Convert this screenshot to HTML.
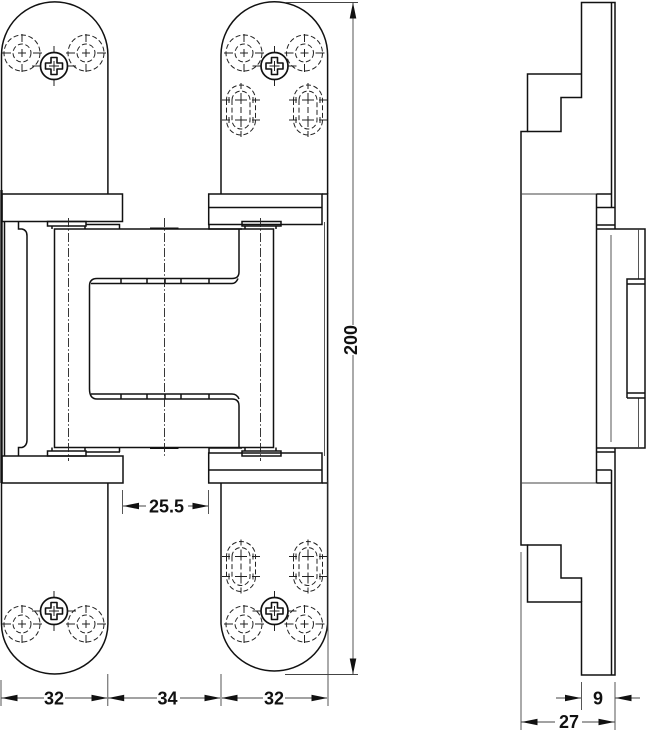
<!DOCTYPE html>
<html><head><meta charset="utf-8"><style>
html,body{margin:0;padding:0;background:#fff}
svg{display:block}
.m{fill:none;stroke:#111;stroke-width:1.5}
.g{fill:none;stroke:#444;stroke-width:.9}
.d{fill:none;stroke:#222;stroke-width:1;stroke-dasharray:5 2.6}
.c{fill:none;stroke:#222;stroke-width:.9;stroke-dasharray:9 2.2 1.6 2.2}
.x{fill:none;stroke:#222;stroke-width:1}
.a{fill:#111;stroke:none}
text{font-family:"Liberation Sans",sans-serif;font-weight:bold;font-size:18px;fill:#111;text-anchor:middle}
</style></head><body>
<svg width="647" height="730" viewBox="0 0 647 730" xmlns="http://www.w3.org/2000/svg">
<defs>
<g id="hole"><circle r="18" class="d"/><circle r="9" class="d"/><path class="x" d="M-20 0H-11M-4 0H4M11 0H20M0 -19V-11M0 -4V4M0 11V19"/></g>
<g id="screw"><path class="x" d="M-22 0H-14M14 0H22M0 -20V-14M0 14V20"/><circle r="13.500" fill="#fff" stroke="#111" stroke-width="1.700"/>
<path d="M-3 -8.500H3V-3H8.500V3H3V8.500H-3V3H-8.500V-3H-3Z" fill="#fff" stroke="#111" stroke-width="1.600" stroke-linejoin="round"/><path class="x" d="M-5 0H5M0 -5V5"/></g>
<g id="slot"><path class="d" d="M-14.500 -10V10A14.500 15 0 0 0 14.500 10V-10A14.500 15 0 0 0 -14.500 -10Z"/><path class="d" d="M-9 -10V10A9 9 0 0 0 9 10V-10A9 9 0 0 0 -9 -10Z"/>
<path class="x" d="M-19 -10H-11M-6 -10H6M11 -10H19M-19 10H-11M-6 10H6M11 10H19M-12 -13V-7M12 -13V-7M-12 7V13M12 7V13M0 -27V-21M0 -17V-6M0 -3V3M0 6V17M0 21V27"/></g>
<path id="ar" d="M0 0L-16 -3.300V3.300Z"/>
</defs>

<!-- plates front -->
<path class="m" d="M1.500 194V55A53.200 53.200 0 0 1 107.900 55V194"/>
<path class="m" d="M221 194V55A53.200 53.200 0 0 1 327.600 55V194"/>
<path class="m" d="M1.500 483V624A53.200 50 0 0 0 107.900 624V483"/>
<path class="m" d="M221 483V624A53.400 50 0 0 0 327.600 624V483"/>

<use href="#hole" x="22" y="53"/><use href="#hole" x="86" y="53"/>
<use href="#hole" x="244" y="53"/><use href="#hole" x="304.500" y="53"/>
<use href="#hole" x="22" y="624"/><use href="#hole" x="86" y="624"/>
<use href="#hole" x="244" y="624"/><use href="#hole" x="304.500" y="624"/>
<use href="#slot" x="241" y="110"/><use href="#slot" x="308" y="110"/>
<use href="#slot" x="241" y="566.500"/><use href="#slot" x="308" y="566.500"/>
<use href="#screw" x="54" y="66"/><use href="#screw" x="274.500" y="66"/>
<use href="#screw" x="54" y="611"/><use href="#screw" x="274.500" y="611"/>

<!-- hinge blocks -->
<path class="m" d="M2 194H122.500V221.500H2Z"/>
<path class="m" d="M2 456H123V483H2Z"/>
<path class="m" d="M208.700 194H322V224.500H208.700ZM208.700 207.500H322"/>
<path class="m" d="M208.700 453H322V483H208.700ZM208.700 470H322"/>
<path class="m" d="M322 194H327.600V483H322"/>
<path class="g" d="M324.500 222V456"/>
<path d="M1.500 190V483" stroke="#111" stroke-width="2.400" fill="none"/>
<path class="m" d="M4.500 221V456"/>

<!-- caps -->
<path class="m" d="M47.500 221.500H86V226H47.500ZM52 226V229M85 226V229M86 224.500H119.500V229"/>
<path class="m" d="M242 221.500H281V226H242ZM245 226V229M276 226V229M209 224.500V229H242"/>
<path class="m" d="M47.500 451H86V456H47.500ZM52 447.500V451M85 447.500V451M86 452H120M119.500 447.500V452"/>
<path class="m" d="M242 451H281V456H242ZM245 447.500V451M276 447.500V451M209 448V453M209 448H242"/>

<!-- left leaf -->
<path class="m" d="M18.500 221.500V229H22Q27 230 27 236V440Q27 446 22 447.500H18.500V456"/>

<!-- body -->
<path class="m" d="M54.500 229H273.500V447.500H54.500Z"/>
<path class="m" d="M239 229V272Q239 278.500 232 278.500H97Q89.500 278.500 89.500 286V389Q89.500 399 97 399H232Q239 399 239 406V447.500" stroke-linejoin="round"/>
<path class="m" d="M91 283.500H232Q236 283.500 238 278.500M91 394H232Q237 394 239 399"/>
<path class="m" d="M121 278.500V283.500M147 278.500V283.500M165 278.500V283.500M181 278.500V283.500M209 278.500V283.500M121 394V399M147 394V399M165 394V399M181 394V399M209 394V399"/>
<path d="M150 228.500H178.500M150 448H178.500" stroke="#111" stroke-width="2" fill="none"/>
<path class="c" d="M68.500 218V461M164.500 218V456M260.500 218V461"/>

<!-- 200 dimension -->
<path class="g" d="M285 2.500H358M285 674.500H358M353 2.500V325M353 355V674"/>
<use href="#ar" class="a" transform="translate(353 2.500) rotate(-90)"/>
<use href="#ar" class="a" transform="translate(353 674.500) rotate(90)"/>
<text transform="translate(357 340) rotate(-90)">200</text>

<!-- 25.5 -->
<path class="g" d="M122.500 490V514M208.500 490V514M123 506H146M188 506H208"/>
<use href="#ar" class="a" transform="translate(123 506) rotate(180)"/>
<use href="#ar" class="a" transform="translate(208.500 506)"/>
<text x="166.500" y="512.500">25.5</text>

<!-- bottom dims -->
<path class="g" d="M1 680V706M107.800 674V706M221 674V706M328 480V706M1 698H44M65 698H107M108 698H157M180 698H220M222 698H263M285 698H327"/>
<use href="#ar" class="a" transform="translate(1.500 698) rotate(180)"/>
<use href="#ar" class="a" transform="translate(107.500 698)"/>
<use href="#ar" class="a" transform="translate(108.200 698) rotate(180)"/>
<use href="#ar" class="a" transform="translate(220.500 698)"/>
<use href="#ar" class="a" transform="translate(221.500 698) rotate(180)"/>
<use href="#ar" class="a" transform="translate(327.500 698)"/>
<text x="54" y="704.500">32</text>
<text x="167.500" y="704.500">34</text>
<text x="274" y="704.500">32</text>

<!-- side view -->
<path class="m" d="M581.500 74V2.500H615V229"/>
<path class="m" d="M611.500 2.500V207.500"/>
<path class="m" d="M581.500 74H527.500V131.500H521V545H527.500V602H581.500V675H615V448"/>
<path class="m" d="M581.500 74V97.500H561V131.500H527.500"/>
<path class="m" d="M527.500 545H561V578H581.500V602"/>
<path class="m" d="M611.500 470V675"/>
<path class="g" d="M521 194H596.500M521 483H596.500"/>
<path class="m" d="M596.500 194V483"/>
<path class="m" d="M596.500 194H611.500M596.500 207.500H615M596.500 225H615M596.500 229H645V448H596.500M596.500 452H615M596.500 470H611.500M596.500 483H611.500"/>
<path class="g" d="M611 235V442M638.500 229V279M638.500 398V448"/>
<path class="m" d="M627 398V279H645M627 284H645M627 393H645M627 398H645"/>

<!-- side dims -->
<path class="g" d="M521 552V730M615 682V730M581.500 682V710M556 698H581M640 698H615M521 722H555M582 722H615"/>
<use href="#ar" class="a" transform="translate(581 698)"/>
<use href="#ar" class="a" transform="translate(615.500 698) rotate(180)"/>
<use href="#ar" class="a" transform="translate(521.500 722) rotate(180)"/>
<use href="#ar" class="a" transform="translate(614.500 722)"/>
<text x="598" y="704.500">9</text>
<text x="569" y="728">27</text>
</svg>
</body></html>
